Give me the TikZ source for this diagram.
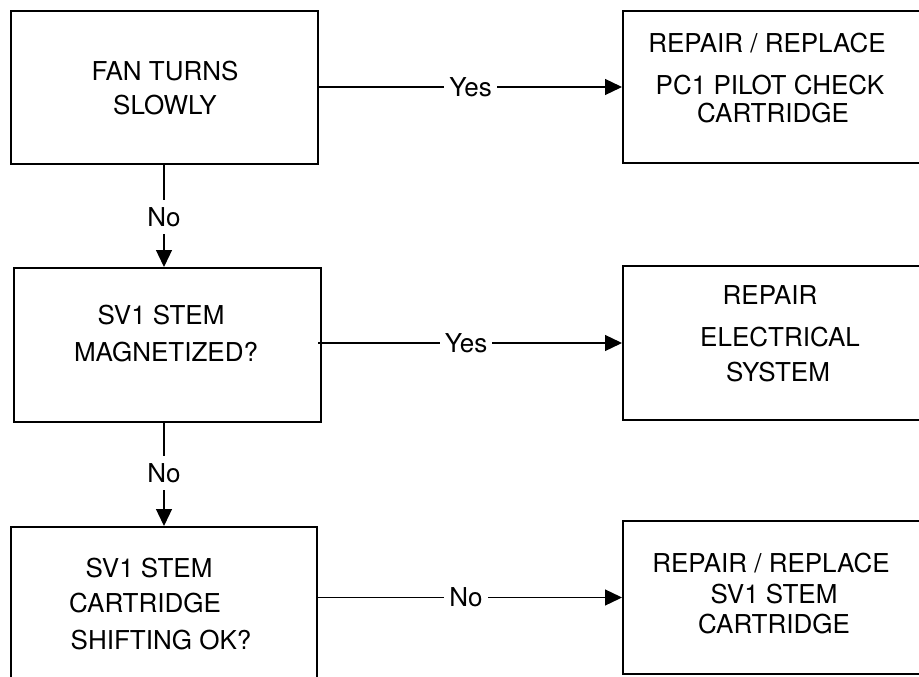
\documentclass[tikz,border=0pt]{standalone}
\usepackage{fontspec}
\setmainfont{TeX Gyre Heros}
\usetikzlibrary{arrows.meta}
\tikzset{
  box/.style={draw=black, line width=2pt, rectangle, inner sep=0pt},
  txt/.style={anchor=base, inner sep=0pt, font=\fontsize{26}{30}\selectfont},
  lbl/.style={fill=white, inner xsep=5pt, inner ysep=7pt, font=\fontsize{26}{30}\selectfont},
  conn/.style={draw=black, line width=1.3pt, -{Triangle[length=17pt,width=16pt]}}
}
\begin{document}
\begin{tikzpicture}[x=1pt,y=-1pt]
\useasboundingbox (0,0) rectangle (919,677);
\clip (0,0) rectangle (919,677);
\fill[white] (0,0) rectangle (919,677);
% boxes
\node[box, minimum width=307pt, minimum height=153pt] (b1) at (164.5,87.5) {};
\node[box, minimum width=317pt, minimum height=152pt] (b2) at (781.5,87) {};
\node[box, minimum width=307pt, minimum height=154pt] (b3) at (167.5,345) {};
\node[box, minimum width=317pt, minimum height=154pt] (b4) at (781.5,343) {};
\node[box, minimum width=306pt, minimum height=173pt] (b5) at (164,613.5) {};
\node[box, minimum width=317pt, minimum height=153pt] (b6) at (781.5,597.5) {};
% texts
\node[txt] (t11) at (165,80.3) {FAN TURNS};
\node[txt] (t12) at (165,114.3) {SLOWLY};
\node[txt] (t21) at (767,52.3) {REPAIR / REPLACE};
\node[txt] (t22) at (770,94.3) {PC1 PILOT CHECK};
\node[txt] (t23) at (773,122.3) {CARTRIDGE};
\node[txt] (t31) at (161,324.3) {SV1 STEM};
\node[txt] (t32) at (166,361.3) {MAGNETIZED?};
\node[txt] (t41) at (770,304.3) {REPAIR};
\node[txt] (t42) at (780,346.3) {ELECTRICAL};
\node[txt] (t43) at (778,381.3) {SYSTEM};
\node[txt] (t51) at (149,577.3) {SV1 STEM};
\node[txt] (t52) at (145,612.3) {CARTRIDGE};
\node[txt] (t53) at (161,649.3) {SHIFTING OK?};
\node[txt] (t61) at (771,572.3) {REPAIR / REPLACE};
\node[txt] (t62) at (774,603.3) {SV1 STEM};
\node[txt] (t63) at (774,633.3) {CARTRIDGE};
% connectors
\draw[conn] (b1.east |- b2.west) -- node[lbl] (y1) {Yes} (b2.west);
\draw[conn] ([xshift=-4pt]b3.east |- b4.west) -- node[lbl, pos=0.487] (y2) {Yes} (b4.west);
\draw[conn] (b5.east |- b6.west) -- node[lbl, pos=0.487] (n3) {No} (b6.west);
\draw[conn] ([xshift=-0.5pt]b1.south) -- node[lbl, pos=0.51] (n1) {No} ([xshift=-0.5pt]b1.south |- b3.north);
\draw[conn] ([xshift=-3.5pt]b3.south) -- node[lbl, pos=0.485] (n2) {No} ([xshift=-3.5pt]b3.south |- b5.north);
\end{tikzpicture}
\end{document}
